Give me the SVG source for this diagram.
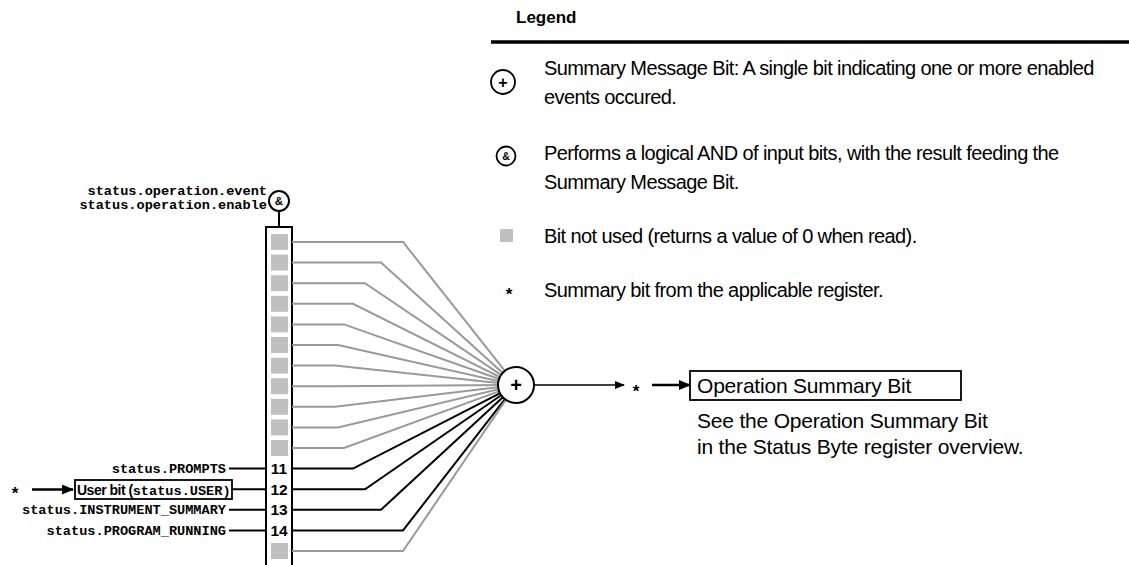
<svg xmlns="http://www.w3.org/2000/svg" width="1129" height="565" viewBox="0 0 1129 565">
<defs>
<style>
.sans{font-family:"Liberation Sans",Arial,sans-serif;fill:#000}
.mono{font-family:"Liberation Mono","Courier New",monospace;font-weight:bold;font-size:13.6px;fill:#000}
.leg{font-size:20px;letter-spacing:-0.6px}
.out{font-size:21px;letter-spacing:-0.2px}
.num{font-family:"Liberation Sans",Arial,sans-serif;font-weight:bold;font-size:15.5px;text-anchor:middle}
.gl{fill:none;stroke:#999;stroke-width:2}
.bl{fill:none;stroke:#000;stroke-width:2}
.sq{fill:#c0c0c0}
.circ{fill:#fff;stroke:#000;stroke-width:2}
</style>
<marker id="ahS" markerWidth="10" markerHeight="8" refX="9" refY="4" orient="auto" markerUnits="userSpaceOnUse"><path d="M0,0 L10,4 L0,8 Z" fill="#000"/></marker>
<marker id="ahL" markerWidth="12" markerHeight="10" refX="11" refY="5" orient="auto" markerUnits="userSpaceOnUse"><path d="M0,0 L12,5 L0,10 Z" fill="#000"/></marker>
</defs>
<rect width="1129" height="565" fill="#fff"/>

<g id="legend">
<text class="sans" x="516" y="23" font-size="17" font-weight="bold">Legend</text>
<line x1="491" y1="42" x2="1129" y2="42" stroke="#000" stroke-width="3.5"/>
<circle cx="503" cy="82" r="12" fill="#fff" stroke="#000" stroke-width="1.8"/>
<text class="sans" x="503" y="88" font-size="16" font-weight="bold" text-anchor="middle">+</text>
<text class="sans leg" x="544" y="75">Summary Message Bit: A single bit indicating one or more enabled</text>
<text class="sans leg" x="544" y="104">events occured.</text>
<circle cx="506" cy="156" r="9.5" fill="#fff" stroke="#000" stroke-width="1.8"/>
<text class="sans" x="506" y="160" font-size="10.5" font-weight="bold" text-anchor="middle">&amp;</text>
<text class="sans leg" x="544" y="160">Performs a logical AND of input bits, with the result feeding the</text>
<text class="sans leg" x="544" y="189">Summary Message Bit.</text>
<rect class="sq" x="500" y="229" width="13" height="13"/>
<text class="sans leg" x="544" y="243">Bit not used (returns a value of 0 when read).</text>
<text class="sans" x="509" y="300" font-size="17" font-weight="bold" text-anchor="middle">*</text>
<text class="sans leg" x="544" y="297">Summary bit from the applicable register.</text>
</g>

<g id="and-gate">
<circle class="circ" cx="279" cy="201" r="10"/>
<text class="sans" x="279" y="205" font-size="11.5" font-weight="bold" text-anchor="middle">&amp;</text>
<text class="mono" x="267" y="195" text-anchor="end">status.operation.event</text>
<text class="mono" x="267" y="209" text-anchor="end">status.operation.enable</text>
</g>

<g id="register">
<path d="M266,567 V227 H292 V567" fill="none" stroke="#000" stroke-width="2"/>
<rect class="sq" x="271" y="234" width="17" height="16"/>
<rect class="sq" x="271" y="254.6" width="17" height="16"/>
<rect class="sq" x="271" y="275.2" width="17" height="16"/>
<rect class="sq" x="271" y="295.8" width="17" height="16"/>
<rect class="sq" x="271" y="316.4" width="17" height="16"/>
<rect class="sq" x="271" y="337" width="17" height="16"/>
<rect class="sq" x="271" y="357.6" width="17" height="16"/>
<rect class="sq" x="271" y="378.2" width="17" height="16"/>
<rect class="sq" x="271" y="398.8" width="17" height="16"/>
<rect class="sq" x="271" y="419.4" width="17" height="16"/>
<rect class="sq" x="271" y="440" width="17" height="16"/>
<text class="num" x="279" y="474">11</text>
<text class="num" x="279" y="494.6">12</text>
<text class="num" x="279" y="515.2">13</text>
<text class="num" x="279" y="535.8">14</text>
<rect class="sq" x="271" y="543" width="17" height="16"/>
</g>

<g id="inputs">
<text class="mono" x="226" y="473" text-anchor="end">status.PROMPTS</text>
<rect x="75" y="480" width="157" height="19" fill="#fff" stroke="#000" stroke-width="1.8"/>
<text x="77" y="494.5"><tspan class="sans" font-size="14" font-weight="bold" letter-spacing="-0.5">User bit (</tspan><tspan class="mono">status.USER)</tspan></text>
<text class="sans" x="15" y="499" font-size="17" font-weight="bold" text-anchor="middle">*</text>
<text class="mono" x="226" y="514" text-anchor="end">status.INSTRUMENT_SUMMARY</text>
<text class="mono" x="226" y="535" text-anchor="end">status.PROGRAM_RUNNING</text>
</g>

<g id="connectors">
<line x1="279" y1="211" x2="279" y2="227" stroke="#000" stroke-width="2"/>
<line x1="229" y1="468.6" x2="266" y2="468.6" stroke="#000" stroke-width="2"/>
<line x1="232" y1="489.2" x2="266" y2="489.2" stroke="#000" stroke-width="2"/>
<line x1="229" y1="509.8" x2="266" y2="509.8" stroke="#000" stroke-width="2"/>
<line x1="229" y1="530.4" x2="266" y2="530.4" stroke="#000" stroke-width="2"/>
<line x1="32" y1="489.5" x2="73" y2="489.5" stroke="#000" stroke-width="2.5" marker-end="url(#ahL)"/>
<polyline class="gl" points="292,242 403,242 516,385"/>
<polyline class="gl" points="292,262.6 381,262.6 516,385"/>
<polyline class="gl" points="292,283.2 365,283.2 516,385"/>
<polyline class="gl" points="292,303.8 353,303.8 516,385"/>
<polyline class="gl" points="292,324.4 344,324.4 516,385"/>
<polyline class="gl" points="292,345 338,345 516,385"/>
<polyline class="gl" points="292,365.6 335,365.6 516,385"/>
<polyline class="gl" points="292,386.2 334,386.2 516,385"/>
<polyline class="gl" points="292,406.8 335,406.8 516,385"/>
<polyline class="gl" points="292,427.4 338,427.4 516,385"/>
<polyline class="gl" points="292,448 344,448 516,385"/>
<polyline class="bl" points="292,468.6 353,468.6 516,385"/>
<polyline class="bl" points="292,489.2 365,489.2 516,385"/>
<polyline class="bl" points="292,509.8 381,509.8 516,385"/>
<polyline class="bl" points="292,530.4 403,530.4 516,385"/>
<polyline class="gl" points="292,551 403,551 516,385"/>
<line x1="534" y1="385" x2="624" y2="385" stroke="#000" stroke-width="1.6" marker-end="url(#ahS)"/>
<line x1="652" y1="385" x2="690" y2="385" stroke="#000" stroke-width="2.5" marker-end="url(#ahL)"/>
</g>

<g id="summary-node">
<circle class="circ" cx="516" cy="385" r="18"/>
<text class="sans" x="516" y="392" font-size="20" font-weight="bold" text-anchor="middle">+</text>
</g>

<g id="output">
<text class="sans" x="636" y="397" font-size="17" font-weight="bold" text-anchor="middle">*</text>
<rect x="690" y="371" width="271" height="29" fill="#fff" stroke="#000" stroke-width="1.8"/>
<text class="sans out" x="697" y="393">Operation Summary Bit</text>
<text class="sans out" x="697" y="428">See the Operation Summary Bit</text>
<text class="sans out" x="697" y="454">in the Status Byte register overview.</text>
</g>
</svg>
